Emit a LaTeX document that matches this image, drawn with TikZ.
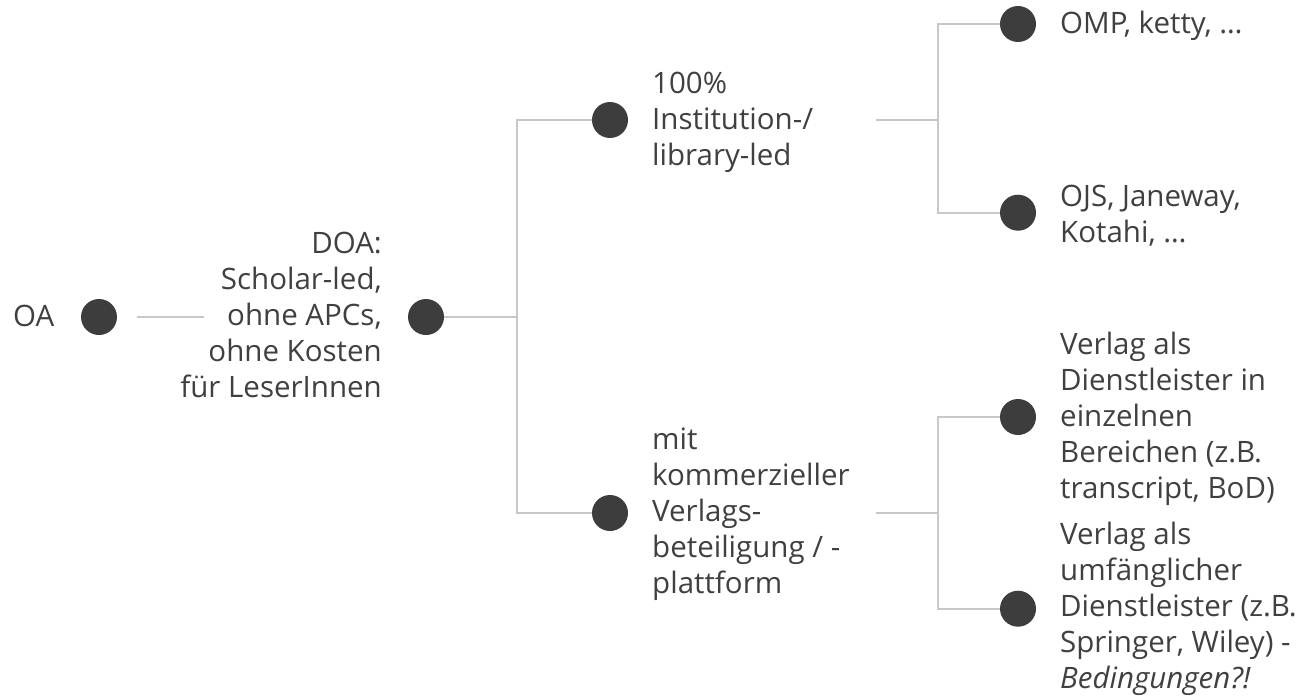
\documentclass[tikz,border=0pt]{standalone}
\usepackage{fontspec}
\setmainfont{Open Sans}
\usetikzlibrary{backgrounds}
\definecolor{txt}{HTML}{404040}
\definecolor{dotc}{HTML}{3D3D3D}
\definecolor{linec}{HTML}{C8C8C8}
\begin{document}
\begin{tikzpicture}[x=1pt,y=-1pt,
  dotnode/.style={circle,fill=dotc,minimum size=36pt,inner sep=0pt},
  conn/.style={draw=linec,line width=2pt},
  lbl/.style={text=txt,inner sep=0pt,font=\fontsize{29.5}{36}\selectfont},
  lbll/.style={lbl,align=left,anchor=base west},
  lblr/.style={lbl,align=right,anchor=base east}]
\useasboundingbox (0,0) rectangle (1303,698);
% junction coordinates
\coordinate (j1) at (517,317);
\coordinate (s2) at (876,120);
\coordinate (j2) at (938,120);
\coordinate (s3) at (876,513);
\coordinate (j3) at (938,513);
% dots
\node[dotnode] (oa) at (99,317) {};
\node[dotnode] (doa) at (426,317) {};
\node[dotnode] (inst) at (610,120) {};
\node[dotnode] (kom) at (610,513) {};
\node[dotnode] (omp) at (1018,24) {};
\node[dotnode] (ojs) at (1018,212.7) {};
\node[dotnode] (ver1) at (1018,417) {};
\node[dotnode] (ver2) at (1018,608.7) {};
% connectors (behind the dots)
\begin{pgfonlayer}{background}
\draw[conn,shorten <=38pt,shorten >=222pt] (oa.center) -- (doa.center);
\draw[conn] (doa.center) -- (j1);
\draw[conn] (j1) |- (inst.center);
\draw[conn] (j1) |- (kom.center);
\draw[conn] (s2) -- (j2);
\draw[conn] (j2) |- (omp.center);
\draw[conn] (j2) |- (ojs.center);
\draw[conn] (s3) -- (j3);
\draw[conn] (j3) |- (ver1.center);
\draw[conn] (j3) |- (ver2.center);
\end{pgfonlayer}
% labels (base anchor = baseline of last line)
\node[lbll] (oatxt) at (13,326) {OA};
\node[lblr] (doatxt) at (382,397) {DOA:\\Scholar-led,\\ohne APCs,\\ohne Kosten\\für LeserInnen};
\node[lbll] (insttxt) at (652,165.7) {100\%\\Institution-/\\library-led};
\node[lbll] (komtxt) at (652,593) {mit\\kommerzieller\\Verlags-\\beteiligung / -\\plattform};
\node[lbll] (omptxt) at (1060,33.3) {OMP, ketty, …};
\node[lbll] (ojstxt) at (1060,242.7) {OJS, Janeway,\\Kotahi, …};
\node[lbll] (ver1txt) at (1060,498) {Verlag als\\Dienstleister in\\einzelnen\\Bereichen (z.B.\\transcript, BoD)};
\node[lbll] (ver2txt) at (1060,688) {Verlag als\\umfänglicher\\Dienstleister (z.B.\\Springer, Wiley) -\\\textit{Bedingungen?!}};
\end{tikzpicture}
\end{document}
